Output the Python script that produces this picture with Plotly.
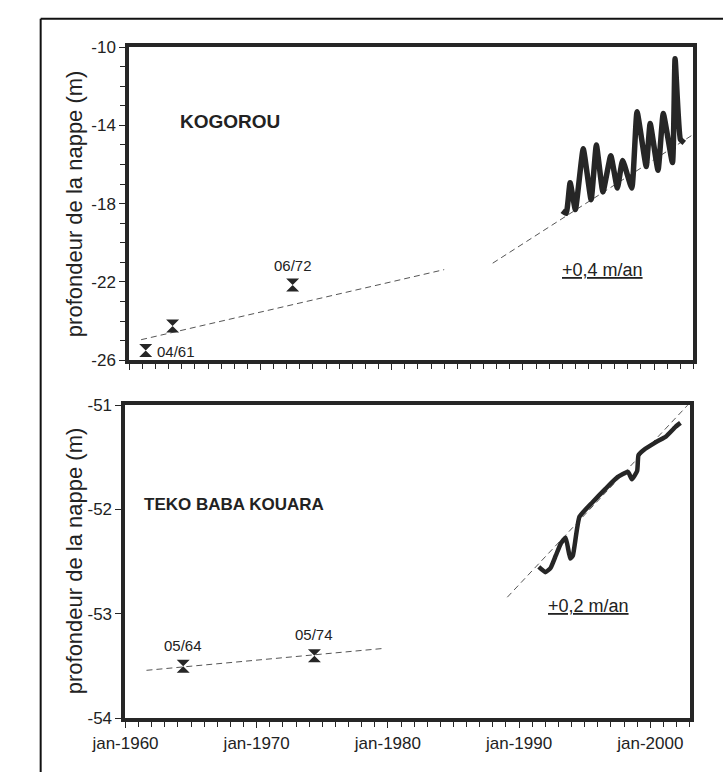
import plotly.graph_objects as go

# ---------------- data ----------------
# KOGOROU (top panel)
kog_obs_year = [1961.25, 1963.3, 1972.45]
kog_obs_depth = [-25.5, -24.25, -22.15]
kog_obs_label = ["04/61", "", "06/72"]

kog_series_year = [1993.0, 1993.3, 1993.6, 1994.0, 1994.6, 1995.2, 1995.6, 1996.1,
                   1996.7, 1997.2, 1997.6, 1998.3, 1998.7, 1999.4, 1999.7, 2000.3,
                   2000.7, 2001.4, 2001.6, 2002.0, 2002.3]
kog_series_depth = [-18.37, -18.5, -16.93, -18.3, -15.2, -17.8, -15.0, -17.4,
                    -15.55, -17.2, -15.8, -17.2, -13.3, -16.1, -13.9, -16.3,
                    -13.4, -15.9, -10.6, -14.7, -14.9]

kog_trend_old_year = [1960.9, 1984.0]
kog_trend_old_depth = [-24.95, -21.37]
kog_trend_new_year = [1987.7, 2003.0]
kog_trend_new_depth = [-21.04, -14.46]

# TEKO BABA KOUARA (bottom panel)
teko_obs_year = [1964.4, 1974.4]
teko_obs_depth = [-53.50, -53.40]
teko_obs_label = ["05/64", "05/74"]

teko_series_year = [1991.5, 1992.0, 1992.4, 1992.8, 1993.2, 1993.55, 1993.9, 1994.1,
                    1994.6, 1995.6, 1996.6, 1997.5, 1998.3, 1998.6, 1999.0, 1999.1,
                    1999.5, 2000.5, 2001.2, 2001.9, 2002.3]
teko_series_depth = [-52.55, -52.6, -52.56, -52.44, -52.32, -52.27, -52.47, -52.44,
                     -52.07, -51.93, -51.8, -51.69, -51.64, -51.71, -51.63, -51.48,
                     -51.43, -51.35, -51.30, -51.21, -51.17]

teko_trend_old_year = [1961.6, 1979.7]
teko_trend_old_depth = [-53.54, -53.33]
teko_trend_new_year = [1989.1, 2003.0]
teko_trend_new_depth = [-52.84, -50.98]

x_tick_years = [1960, 1970, 1980, 1990, 2000]
x_tick_text = ["jan-1960", "jan-1970", "jan-1980", "jan-1990", "jan-2000"]
kog_y_ticks = [-26, -22, -18, -14, -10]
teko_y_ticks = [-54, -53, -52, -51]

# ---------------- figure ----------------
W, H = 723, 782
INK = "#262626"
FONT = "Liberation Sans, Arial, sans-serif"

fig = go.Figure()

def add_panel(xa, ya, ser_x, ser_y, lw, obs_x, obs_y, t1x, t1y, t2x, t2y):
    for tx, ty in ((t1x, t1y), (t2x, t2y)):
        fig.add_trace(go.Scatter(x=tx, y=ty, mode="lines", xaxis=xa, yaxis=ya,
                                 line=dict(color="#555555", width=1, dash="6px,4px"),
                                 showlegend=False, hoverinfo="skip"))
    fig.add_trace(go.Scatter(x=ser_x, y=ser_y, mode="lines", xaxis=xa, yaxis=ya,
                             line=dict(color=INK, width=lw, shape="spline", smoothing=0.4),
                             showlegend=False))
    fig.add_trace(go.Scatter(x=obs_x, y=obs_y, mode="markers", xaxis=xa, yaxis=ya,
                             marker=dict(symbol="hourglass", size=13, color=INK),
                             showlegend=False))

add_panel("x", "y", kog_series_year, kog_series_depth, 5.5, kog_obs_year, kog_obs_depth,
          kog_trend_old_year, kog_trend_old_depth, kog_trend_new_year, kog_trend_new_depth)
add_panel("x2", "y2", teko_series_year, teko_series_depth, 4.5, teko_obs_year, teko_obs_depth,
          teko_trend_old_year, teko_trend_old_depth, teko_trend_new_year, teko_trend_new_depth)

axis_common = dict(showline=True, mirror=True, linewidth=4, linecolor=INK,
                   ticks="outside", tickcolor=INK, tickwidth=1, showgrid=False,
                   zeroline=False, tickfont=dict(family=FONT, size=17, color="#222"))

fig.update_layout(
    width=W, height=H, margin=dict(l=0, r=0, t=0, b=0),
    paper_bgcolor="white", plot_bgcolor="white",
    xaxis=dict(domain=[100 / W, 692 / W], range=[1960, 2003], anchor="y",
               tickvals=x_tick_years, showticklabels=False, ticklen=6,
               minor=dict(dtick=1, tick0=1960, ticks="outside", ticklen=5, tickcolor=INK),
               **axis_common),
    yaxis=dict(domain=[1 - 360 / H, 1 - 39 / H], range=[-26, -10], anchor="x",
               tickvals=kog_y_ticks, ticktext=[str(v) for v in kog_y_ticks], ticklen=6,
               minor=dict(dtick=1, tick0=-26, ticks="outside", ticklen=5, tickcolor=INK),
               **axis_common),
    xaxis2=dict(domain=[96 / W, 688 / W], range=[1960, 2003], anchor="y2",
                tickvals=x_tick_years, ticktext=x_tick_text, ticklen=6,
                minor=dict(dtick=1, tick0=1960, ticks="outside", ticklen=5, tickcolor=INK),
                **axis_common),
    yaxis2=dict(domain=[1 - 727 / H, 1 - 406 / H], range=[-54, -51], anchor="x2",
                tickvals=teko_y_ticks, ticktext=[str(v) for v in teko_y_ticks], ticklen=6,
                **axis_common),
)

ann = []
txt = dict(family=FONT, size=15, color="#222")
# point labels
ann.append(dict(x=kog_obs_year[0], y=kog_obs_depth[0], xref="x", yref="y", text=kog_obs_label[0],
                showarrow=False, xanchor="left", xshift=9, yshift=-1, font=txt))
ann.append(dict(x=kog_obs_year[2], y=kog_obs_depth[2], xref="x", yref="y", text=kog_obs_label[2],
                showarrow=False, yshift=19, font=txt))
for yx, yd, lab in zip(teko_obs_year, teko_obs_depth, teko_obs_label):
    ann.append(dict(x=yx, y=yd, xref="x2", yref="y2", text=lab, showarrow=False,
                    yshift=21, font=txt))
# station names
ann.append(dict(x=1967.7, y=-13.8, xref="x", yref="y", text="<b>KOGOROU</b>",
                showarrow=False, font=dict(family=FONT, size=19, color="#222")))
ann.append(dict(x=1968.3, y=-51.95, xref="x2", yref="y2", text="<b>TEKO BABA KOUARA</b>",
                showarrow=False, font=dict(family=FONT, size=17, color="#222")))
# trend labels
ann.append(dict(x=1996.1, y=-21.4, xref="x", yref="y", text="<u>+0,4 m/an</u>",
                showarrow=False, font=dict(family=FONT, size=18, color="#222")))
ann.append(dict(x=1995.3, y=-52.92, xref="x2", yref="y2", text="<u>+0,2 m/an</u>",
                showarrow=False, font=dict(family=FONT, size=18, color="#222")))
# y axis titles
for yc in (200, 566):
    ann.append(dict(x=42 / W, y=1 - yc / H, xref="paper", yref="paper",
                    xanchor="center", yanchor="middle",
                    text="profondeur de la nappe (m)", textangle=-90, showarrow=False,
                    font=dict(family=FONT, size=22, color="#222")))
fig.update_layout(annotations=ann)

# outer frame (left and top edges visible)
fig.add_shape(type="line", xref="paper", yref="paper", x0=7 / W, x1=7 / W, y0=0, y1=1 - 10 / H,
              line=dict(color="#111", width=2))
fig.add_shape(type="line", xref="paper", yref="paper", x0=7 / W, x1=1, y0=1 - 10 / H, y1=1 - 10 / H,
              line=dict(color="#111", width=2))

fig.write_html("out.html", config={"displayModeBar": False},
               post_script="document.body.style.margin='0';")
